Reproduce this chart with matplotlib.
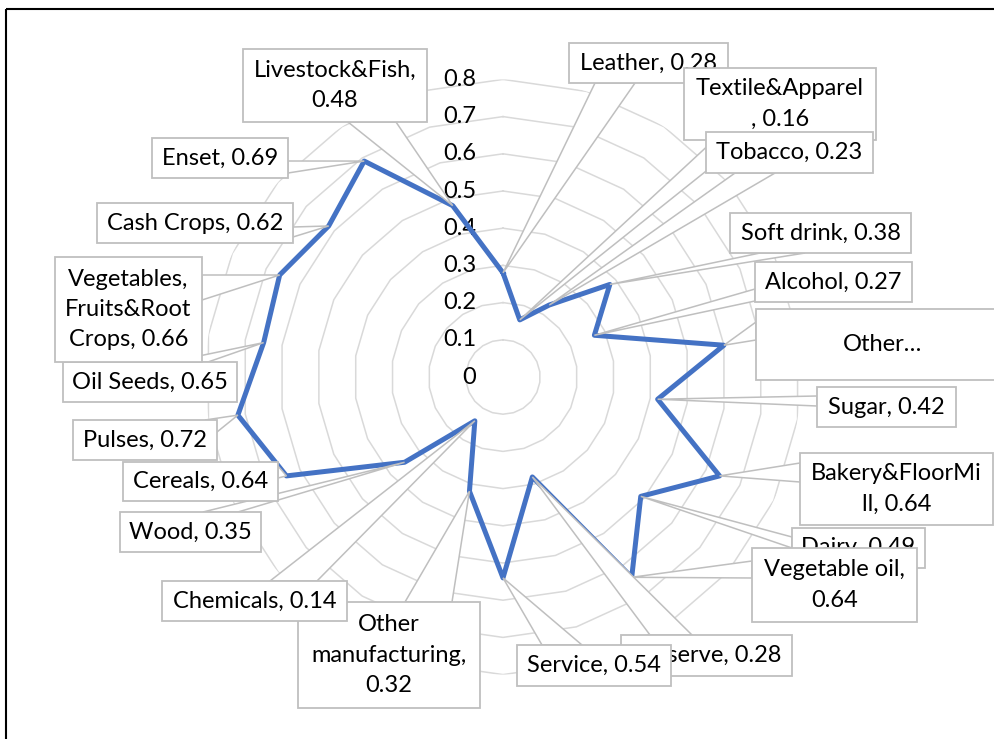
import numpy as np
import matplotlib
matplotlib.use("Agg")
import matplotlib.pyplot as plt
from matplotlib.patches import Polygon, Rectangle

plt.rcParams['font.family'] = ['Lato', 'DejaVu Sans']

# data
categories = ["Leather", "Textile&Apparel", "Tobacco", "Soft drink", "Alcohol",
              "Other food", "Sugar", "Bakery&FloorMill", "Dairy", "Vegetable oil",
              "Preserve", "Service", "Other manufacturing", "Chemicals", "Wood",
              "Cereals", "Pulses", "Oil Seeds", "Vegetables, Fruits&Root Crops",
              "Cash Crops", "Enset", "Livestock&Fish"]
values = [0.28, 0.16, 0.23, 0.38, 0.27, 0.60, 0.42, 0.64, 0.49, 0.64,
          0.28, 0.54, 0.32, 0.14, 0.35, 0.64, 0.72, 0.65, 0.66, 0.62, 0.69, 0.48]
labels = ["Leather, 0.28", "Textile&Apparel\n, 0.16", "Tobacco, 0.23",
          "Soft drink, 0.38", "Alcohol, 0.27", "Other\u2026", "Sugar, 0.42",
          "Bakery&FloorMi\nll, 0.64", "Dairy, 0.49", "Vegetable oil,\n0.64",
          "Preserve, 0.28", "Service, 0.54", "Other\nmanufacturing,\n0.32",
          "Chemicals, 0.14", "Wood, 0.35", "Cereals, 0.64", "Pulses, 0.72",
          "Oil Seeds, 0.65", "Vegetables,\nFruits&Root\nCrops, 0.66",
          "Cash Crops, 0.62", "Enset, 0.69", "Livestock&Fish,\n0.48"]
ticks = [0, 0.1, 0.2, 0.3, 0.4, 0.5, 0.6, 0.7, 0.8]

# callout layout in pixels (x0, y0, x1, y1), origin top-left
boxes = [(569, 43, 728, 83), (684, 68, 876, 140), (706, 132, 873, 173),
         (730, 213, 911, 253), (755, 262, 912, 302), (756, 309, 1010, 380),
         (817, 387, 956, 427), (800, 453, 993, 525), (792, 528, 925, 568),
         (752, 548, 917, 622), (621, 635, 792, 676), (517, 645, 671, 686),
         (298, 602, 480, 708), (162, 581, 347, 621), (120, 512, 261, 552),
         (123, 462, 278, 501), (73, 420, 217, 460), (63, 362, 237, 402),
         (55, 257, 202, 362), (97, 203, 293, 243), (152, 138, 288, 178),
         (243, 49, 427, 122)]
bases = [((595, 83), (635, 83)), ((714, 140), (745, 140)), ((735, 173), (775, 173)),
         ((760, 253), (805, 253)), ((755, 289), (755, 301)), ((756, 322), (756, 340)),
         ((817, 396), (817, 406)), ((800, 463), (800, 482)), ((792, 537), (792, 548)),
         ((752, 561), (752, 578)), ((650, 635), (692, 635)), ((542, 645), (582, 645)),
         ((405, 602), (452, 602)), ((270, 581), (317, 581)), ((203, 512), (238, 512)),
         ((278, 466), (278, 478)), ((217, 432), (205, 420)), ((170, 362), (208, 362)),
         ((202, 275), (202, 300)), ((293, 227), (293, 237)), ((288, 161), (288, 173)),
         ((348, 122), (396, 122))]

W, H = 994, 739
cx, cy, R = 503, 377, 297.6

fig = plt.figure(figsize=(W / 100, H / 100), dpi=100)
ax = fig.add_axes([(cx - R) / W, (H - cy - R) / H, 2 * R / W, 2 * R / H],
                  projection='polar')
ax.set_theta_zero_location('N')
ax.set_theta_direction(-1)
ax.set_ylim(0, 0.8)
ax.grid(False)
ax.spines['polar'].set_visible(False)
ax.set_xticks([])
ax.set_yticks([])

n = len(categories)
theta = np.arange(n) * 2 * np.pi / n
theta_c = np.append(theta, theta[0])

# polygon gridlines
for t in ticks[1:]:
    ax.plot(theta_c, np.full(n + 1, t), color='#d9d9d9', lw=1.1, zorder=1)

for t in ticks:
    ax.annotate(f"{t:g}", xy=(0, t), xytext=(-27, 0), textcoords='offset pixels',
                ha='right', va='center', fontsize=17, color='black',
                annotation_clip=False, zorder=2)

ax.plot(theta_c, np.append(values, values[0]), color='#4472C4', lw=3.6,
        solid_joinstyle='round', zorder=3)

# overlay for callouts
ov = fig.add_axes([0, 0, 1, 1], zorder=5)
ov.set_xlim(0, W)
ov.set_ylim(H, 0)
ov.axis('off')
ov.patch.set_alpha(0)

ov.add_patch(Rectangle((6, 9), 1100, 800, fill=False, ec='black', lw=1.5))

for i in range(n):
    tip = ov.transData.inverted().transform(ax.transData.transform((theta[i], values[i])))
    x0, y0, x1, y1 = boxes[i]
    b1, b2 = bases[i]
    z = 10 + 3 * i
    ov.add_patch(Polygon([b1, tuple(tip), b2], closed=True, fc='white',
                         ec='#bfbfbf', lw=1.1, zorder=z))
    ov.add_patch(Rectangle((x0, y0), x1 - x0, y1 - y0, fc='white',
                           ec='#bfbfbf', lw=1.3, zorder=z + 1))
    ov.text((x0 + x1) / 2, (y0 + y1) / 2, labels[i], ha='center', va='center',
            fontsize=17, color='black', linespacing=1.55, zorder=z + 2)

fig.savefig("out.png", dpi=100, facecolor='white')
